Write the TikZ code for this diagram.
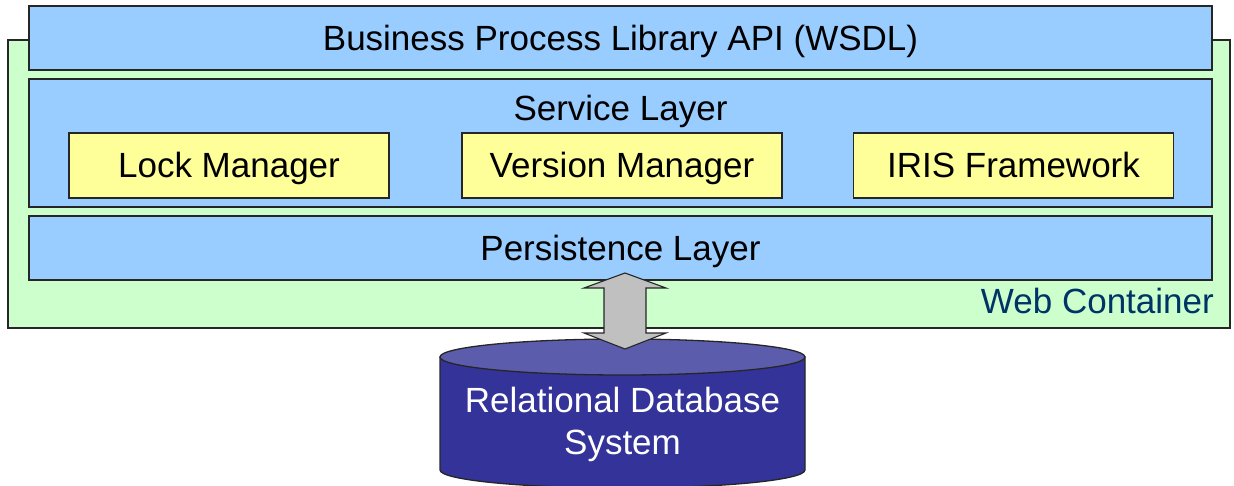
\documentclass[tikz,border=0pt]{standalone}
\usepackage{fontspec}
\setmainfont{Liberation Sans}
\usetikzlibrary{positioning,calc}

\definecolor{layerblue}{HTML}{99CCFF}
\definecolor{webgreen}{HTML}{CCFFCC}
\definecolor{partyellow}{HTML}{FFFF99}
\definecolor{dbbody}{HTML}{333399}
\definecolor{dbtop}{HTML}{5C5CAD}
\definecolor{webnavy}{HTML}{003366}
\definecolor{arrowgray}{HTML}{C0C0C0}

\tikzset{
    big/.style={font=\fontsize{35}{42}\selectfont},
    boxtext/.style={big, text height=25, text depth=0},
    container/.style={draw=black!85, fill=webgreen, line width=1.3, inner sep=0,
        minimum width=1222, minimum height=288},
    layer/.style={boxtext, draw=black!85, fill=layerblue, line width=1.3, inner sep=0,
        minimum width=1183, minimum height=64},
    part/.style={boxtext, draw=black!85, fill=partyellow, line width=1.3, inner sep=0,
        minimum width=320, minimum height=65},
}

\begin{document}
\begin{tikzpicture}[x=1pt, y=-1pt]
    \useasboundingbox (0,0) rectangle (1234,486);
    % web container and its layers
    \node[container] (web) at (619,184) {};
    \node[layer] (api) at (620.5,38) {Business Process Library API (WSDL)};
    \node[layer, minimum height=128] (service) at (620.5,143) {};
    \node[boxtext] (servicelbl) at (620.5,108) {Service Layer};
    \node[part] (lock) at (229,165.5) {Lock Manager};
    \node[part] (version) at (622,165.5) {Version Manager};
    \node[part] (iris) at (1013.5,165.5) {IRIS Framework};
    \node[layer] (persist) at (620.5,248) {Persistence Layer};
    \node[big, text=webnavy, anchor=base east, inner sep=0] (weblbl) at (1214,313) {Web Container};
    % database
    \draw[draw=black!85, fill=dbbody, line width=1.3] (440,357) -- (440,470)
        arc[start angle=180, end angle=0, x radius=182.5, y radius=18] -- (805,357) -- cycle;
    \draw[draw=black!85, fill=dbtop, line width=1.3] (622.5,357) ellipse [x radius=182.5, y radius=18];
    \node[big, text=white, align=center] (db) at (622.5,424) {Relational Database\\System};
    % double arrow between persistence layer and database
    \coordinate (up) at (625,273);
    \coordinate (down) at (625,349);
    \draw[draw=black!85, fill=arrowgray, line width=1.1] (up) -- ++(41,15) -- ++(-20,0)
        |- ($(down)+(41,-16)$) -- (down) -- ++(-41,-16) -- ++(20,0) |- ($(up)+(-41,15)$) -- cycle;
\end{tikzpicture}
\end{document}
